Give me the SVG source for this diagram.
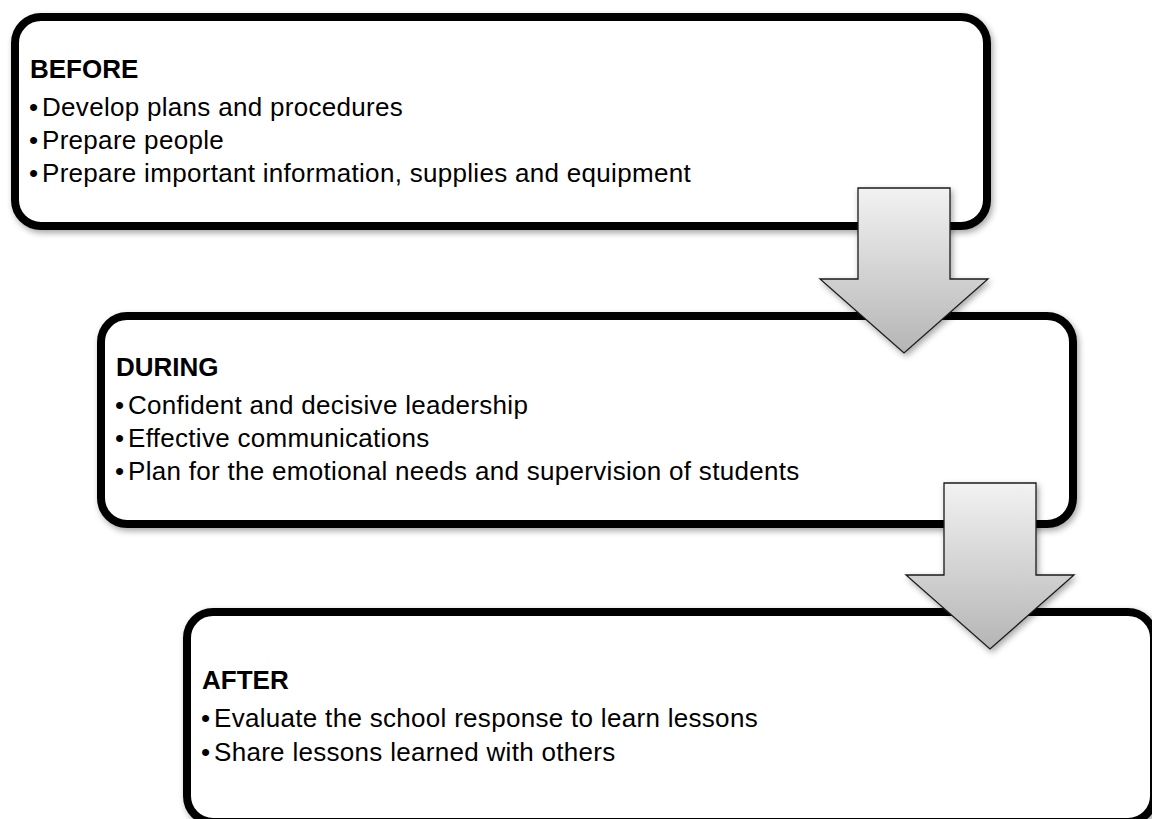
<svg xmlns="http://www.w3.org/2000/svg" width="1152" height="819" viewBox="0 0 1152 819">
  <defs>
    <filter id="shadow" x="-5%" y="-5%" width="110%" height="115%">
      <feDropShadow dx="2" dy="3" stdDeviation="3" flood-color="#000" flood-opacity="0.35"/>
    </filter>
    <linearGradient id="arrowGrad" x1="0" y1="0" x2="0" y2="1">
      <stop offset="0" stop-color="#f2f2f2"/>
      <stop offset="1" stop-color="#b5b5b5"/>
    </linearGradient>
  </defs>
  <style>
    .box { fill: #ffffff; stroke: #000000; stroke-width: 8; }
    .title { font-family: "Liberation Sans", Arial, sans-serif; font-weight: bold; font-size: 26px; fill: #000; }
    .item { font-family: "Liberation Sans", Arial, sans-serif; font-size: 26px; letter-spacing: 0.3px; fill: #000; }
    .arrow { fill: url(#arrowGrad); stroke: #1a1a1a; stroke-width: 1.3; stroke-linejoin: miter; }
  </style>
  <rect width="1152" height="819" fill="#ffffff"/>

  <g id="before">
    <rect class="box" x="15" y="17" width="972" height="209" rx="26" filter="url(#shadow)"/>
    <text class="title" x="30" y="78">BEFORE</text>
    <text class="item" x="29" y="116">•</text><text class="item" x="42" y="116">Develop plans and procedures</text>
    <text class="item" x="29" y="149">•</text><text class="item" x="42" y="149">Prepare people</text>
    <text class="item" x="29" y="182">•</text><text class="item" x="42" y="182">Prepare important information, supplies and equipment</text>
  </g>

  <g id="during">
    <rect class="box" x="101" y="316" width="972" height="208" rx="26" filter="url(#shadow)"/>
    <text class="title" x="116" y="376">DURING</text>
    <text class="item" x="115" y="414">•</text><text class="item" x="128" y="414">Confident and decisive leadership</text>
    <text class="item" x="115" y="447">•</text><text class="item" x="128" y="447">Effective communications</text>
    <text class="item" x="115" y="480">•</text><text class="item" x="128" y="480">Plan for the emotional needs and supervision of students</text>
  </g>

  <g id="after">
    <rect class="box" x="187" y="612" width="967" height="210" rx="26" filter="url(#shadow)"/>
    <text class="title" x="202" y="689">AFTER</text>
    <text class="item" x="201" y="727">•</text><text class="item" x="214" y="727">Evaluate the school response to learn lessons</text>
    <text class="item" x="201" y="761">•</text><text class="item" x="214" y="761">Share lessons learned with others</text>
  </g>

  <g id="connectors">
    <path class="arrow" filter="url(#shadow)" d="M858,188 L950,188 L950,279 L988,279 L904,353 L820,279 L858,279 Z"/>
    <path class="arrow" filter="url(#shadow)" d="M944,483 L1036,483 L1036,575 L1074,575 L990,649 L906,575 L944,575 Z"/>
  </g>
</svg>
